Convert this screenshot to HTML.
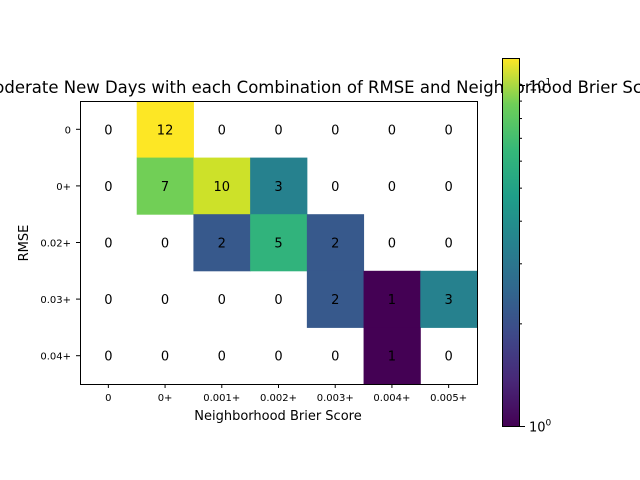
<!DOCTYPE html>
<html><head><meta charset="utf-8"><style>body{margin:0;background:#fff}svg{display:block;font-family:"DejaVu Sans","Liberation Sans",sans-serif}</style></head>
<body>
<svg id="chart" width="640" height="480" viewBox="0 0 640 480">
<defs><linearGradient id="vg" x1="0" y1="1" x2="0" y2="0">
<stop offset="0" stop-color="#440154"/><stop offset="0.125" stop-color="#482878"/><stop offset="0.25" stop-color="#3e4989"/><stop offset="0.375" stop-color="#31688e"/><stop offset="0.5" stop-color="#26828e"/><stop offset="0.625" stop-color="#1f9e89"/><stop offset="0.75" stop-color="#35b779"/><stop offset="0.875" stop-color="#6ece58"/><stop offset="1" stop-color="#fde725"/></linearGradient></defs>
<text x="278" y="93" font-size="16.5" text-anchor="middle" fill="#000">Number of Moderate New Days with each Combination of RMSE and Neighborhood Brier Score</text>
<g id="cells"></g>
<rect x="80.5" y="101.5" width="397" height="283" fill="none" stroke="#000" stroke-width="1"/>
<g id="ticks"></g>
<text x="278" y="420" font-size="13" text-anchor="middle">Neighborhood Brier Score</text>
<text transform="translate(28,243) rotate(-90)" font-size="13" text-anchor="middle">RMSE</text>
<rect x="502.5" y="58.5" width="17" height="368" fill="url(#vg)" stroke="#000"/>
<g id="cbticks"></g>
</svg>
<script>
const xLabels=["0","0+","0.001+","0.002+","0.003+","0.004+","0.005+"];
const yLabels=["0","0+","0.02+","0.03+","0.04+"];
const counts=[
[0,12,0,0,0,0,0],
[0,7,10,3,0,0,0],
[0,0,2,5,2,0,0],
[0,0,0,0,2,1,3],
[0,0,0,0,0,1,0]];
const vmax=12;
const X0=80,Y0=101,W=397,H=283;
const cw=W/xLabels.length,ch=H/yLabels.length;
const stops=[[68,1,84],[72,40,120],[62,73,137],[49,104,142],[38,130,142],[31,158,137],[53,183,121],[110,206,88],[181,222,43],[253,231,37]];
function viridis(t){t=Math.max(0,Math.min(1,t));const p=t*(stops.length-1),i=Math.min(Math.floor(p),stops.length-2),f=p-i;
const c=stops[i].map((v,k)=>Math.round(v+(stops[i+1][k]-v)*f));return `rgb(${c})`;}
function colorT(v){return Math.log(v)/Math.log(vmax);}
const NS="http://www.w3.org/2000/svg";
function mk(t,a){const e=document.createElementNS(NS,t);for(const k in a)e.setAttribute(k,a[k]);return e;}
const cells=document.getElementById('cells');
counts.forEach((row,r)=>row.forEach((v,c)=>{
 const x=X0+c*cw,y=Y0+r*ch;
 if(v>0){const rc=mk('rect',{x:x,y:y,width:cw+0.5,height:ch+0.5,fill:viridis(colorT(v))});
 
 
 cells.appendChild(rc);}
 const t=mk('text',{x:x+cw/2,y:y+ch/2+5,'font-size':13,'text-anchor':'middle',fill:'#000'});
 t.textContent=v;
 
 
 cells.appendChild(t);
}));
const tk=document.getElementById('ticks');
xLabels.forEach((l,i)=>{const x=X0+(i+0.5)*cw;
 tk.appendChild(mk('line',{x1:x,x2:x,y1:384,y2:388,stroke:'#000'}));
 const t=mk('text',{x:x,y:401,'font-size':10,'text-anchor':'middle'});t.textContent=l;
 
 
 tk.appendChild(t);});
yLabels.forEach((l,i)=>{const y=Y0+(i+0.5)*ch;
 tk.appendChild(mk('line',{x1:76,x2:80,y1:y,y2:y,stroke:'#000'}));
 const t=mk('text',{x:71,y:y+4,'font-size':10,'text-anchor':'end'});t.textContent=l;
 
 
 tk.appendChild(t);});
const cb=document.getElementById('cbticks');
const cbY=v=>426.5-368*Math.log(v)/Math.log(vmax);
[2,3,4,5,6,7,8,9,10].forEach(v=>{const y=cbY(v);cb.appendChild(mk('line',{x1:520,x2:v===10?525:522,y1:y,y2:y,stroke:'#000'}));});
cb.appendChild(mk('line',{x1:520,x2:525,y1:426.5,y2:426.5,stroke:'#000'}));
[[1,'0'],[10,'1']].forEach(([v,e])=>{const t=mk('text',{x:529,y:cbY(v)+5,'font-size':13});
 t.innerHTML='10<tspan dy="-6" font-size="9">'+e+'</tspan>';
 
 
 cb.appendChild(t);});
</script>
</body></html>
